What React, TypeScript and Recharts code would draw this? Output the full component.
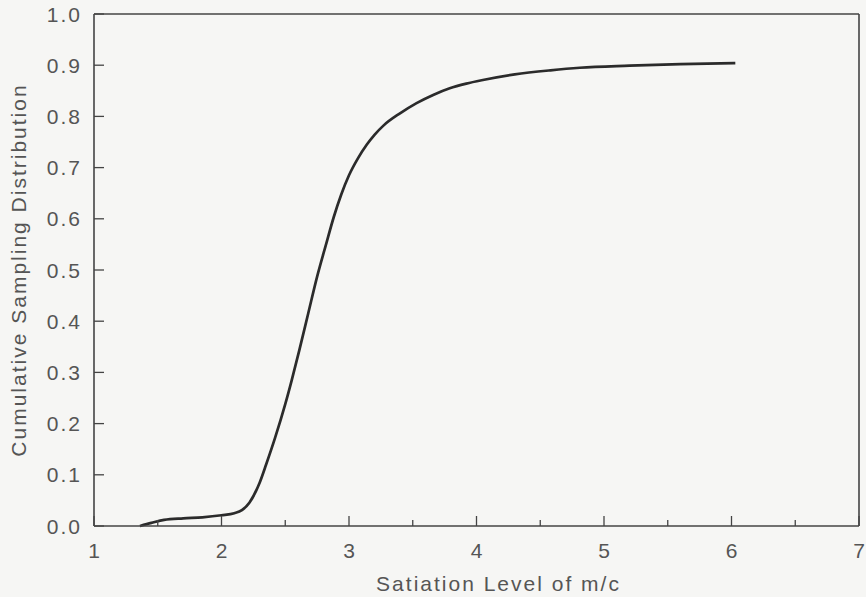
import React from 'react';
import { LineChart, Line, XAxis, YAxis, ReferenceLine, Label } from 'recharts';

const xValues = [1.36, 1.45, 1.55, 1.7, 1.85, 2.0, 2.1, 2.16, 2.22, 2.3, 2.35, 2.42, 2.5, 2.55, 2.61, 2.68, 2.75, 2.82, 2.88, 2.94, 3.0, 3.07, 3.14, 3.2, 3.27, 3.4, 3.53, 3.66, 3.79, 3.92, 4.05, 4.3, 4.58, 4.81, 5.2, 5.6, 6.03];
const yValues = [0, 0.006, 0.012, 0.015, 0.017, 0.021, 0.025, 0.031, 0.046, 0.085, 0.12, 0.172, 0.238, 0.284, 0.343, 0.415, 0.487, 0.55, 0.603, 0.648, 0.685, 0.718, 0.745, 0.764, 0.782, 0.806, 0.826, 0.842, 0.855, 0.864, 0.871, 0.882, 0.89, 0.895, 0.899, 0.902, 0.904];

const xTicks = [1, 1.5, 2, 2.5, 3, 3.5, 4, 4.5, 5, 5.5, 6, 6.5, 7];
const yTicks = [0, 0.1, 0.2, 0.3, 0.4, 0.5, 0.6, 0.7, 0.8, 0.9, 1.0];

const xTitle = 'Satiation Level of m/c';
const yTitle = 'Cumulative Sampling Distribution';

const data = xValues.map((x, i) => ({ x, y: yValues[i] }));

const AXIS = '#444444';
const TEXT = '#555555';
const FONT = '"Liberation Sans", Arial, sans-serif';
const FS = 21;
const LS = 2;

const XTick = (props: any) => {
  const { x, y, payload } = props;
  const v = payload.value as number;
  const major = Number.isInteger(v);
  return (
    <g>
      <line x1={x} y1={y} x2={x} y2={y - (major ? 10 : 6)} stroke={AXIS} strokeWidth={1.3} />
      {major && (
        <text x={x + LS / 2} y={y + 32} textAnchor="middle" fill={TEXT} fontSize={FS} fontFamily={FONT} style={{ letterSpacing: LS }}>
          {String(v)}
        </text>
      )}
    </g>
  );
};

const YTick = (props: any) => {
  const { x, y, payload } = props;
  const v = payload.value as number;
  return (
    <g>
      <line x1={x} y1={y} x2={x + 10} y2={y} stroke={AXIS} strokeWidth={1.3} />
      <text x={x - 14 + LS} y={y} dy={7.5} textAnchor="end" fill={TEXT} fontSize={FS} fontFamily={FONT} style={{ letterSpacing: LS }}>
        {v.toFixed(1)}
      </text>
    </g>
  );
};

const XTitle = (props: any) => {
  const vb = props.viewBox || { x: 0, y: 0, width: 0, height: 0 };
  return (
    <text x={vb.x + vb.width / 2 + 22} y={vb.y + 65} textAnchor="middle" fill={TEXT} fontSize={FS} fontFamily={FONT} style={{ letterSpacing: LS }}>
      {xTitle}
    </text>
  );
};

const YTitle = (props: any) => {
  const vb = props.viewBox || { x: 0, y: 0, width: 0, height: 0 };
  const cx = 26;
  const cy = vb.y + vb.height / 2;
  return (
    <text x={cx} y={cy} textAnchor="middle" fill={TEXT} fontSize={FS} fontFamily={FONT} transform={`rotate(-90 ${cx} ${cy})`} style={{ letterSpacing: LS }}>
      {yTitle}
    </text>
  );
};

export default function App() {
  return (
    <div style={{ position: 'absolute', left: 0, top: 0, width: 866, height: 597, background: '#f6f6f4' }}>
      <LineChart width={866} height={597} data={data} margin={{ top: 14, right: 7, left: 0, bottom: 0 }}>
        <XAxis
          dataKey="x"
          type="number"
          domain={[1, 7]}
          ticks={xTicks}
          interval={0}
          tick={<XTick />}
          tickLine={false}
          tickSize={0}
          tickMargin={0}
          height={71}
          axisLine={{ stroke: AXIS, strokeWidth: 1.6 }}
        >
          <Label content={<XTitle />} />
        </XAxis>
        <YAxis
          type="number"
          domain={[0, 1]}
          ticks={yTicks}
          interval={0}
          tick={<YTick />}
          tickLine={false}
          tickSize={0}
          tickMargin={0}
          width={94}
          axisLine={{ stroke: AXIS, strokeWidth: 1.6 }}
        >
          <Label content={<YTitle />} />
        </YAxis>
        <ReferenceLine y={1} stroke={AXIS} strokeWidth={1.6} />
        <ReferenceLine x={7} stroke={AXIS} strokeWidth={1.6} />
        <Line type="monotone" dataKey="y" stroke="#2b2b2b" strokeWidth={2.7} dot={false} isAnimationActive={false} />
      </LineChart>
    </div>
  );
}
